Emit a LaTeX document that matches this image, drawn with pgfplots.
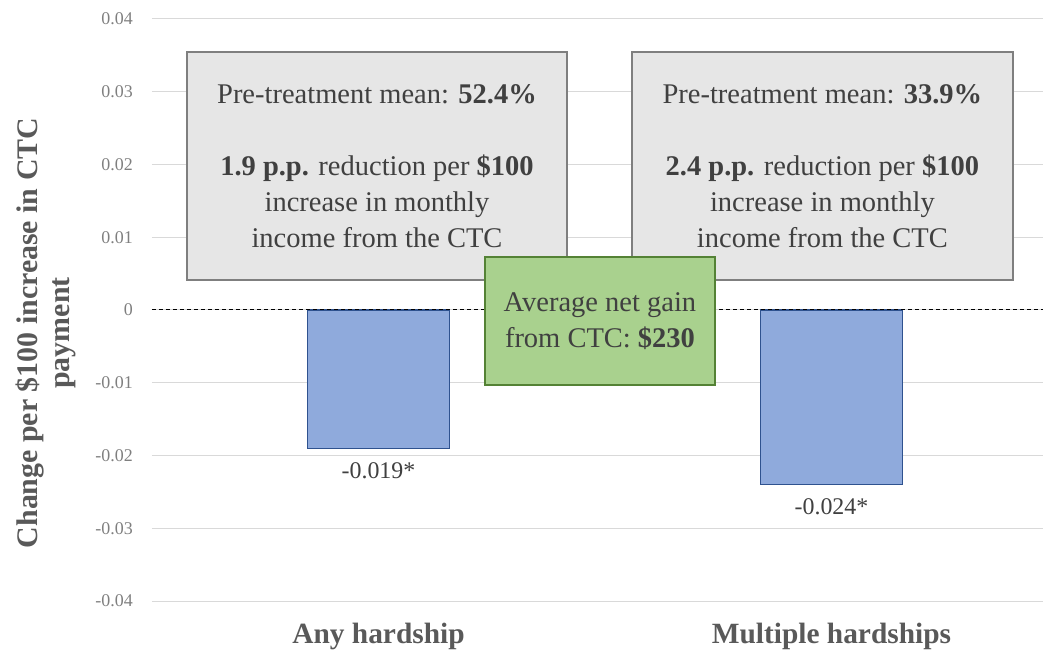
\documentclass[border=0pt]{standalone}
\usepackage{fontspec}
\setmainfont{Liberation Serif}
\usepackage{graphicx}
\usepackage{pgfplots}
\pgfplotsset{compat=1.18}
\definecolor{gridgray}{HTML}{D9D9D9}
\definecolor{tickgray}{HTML}{7F7F7F}
\definecolor{txt}{HTML}{404040}
\definecolor{labtxt}{HTML}{595959}
\definecolor{boxgray}{HTML}{E6E6E6}
\definecolor{boxborder}{HTML}{7F7F7F}
\definecolor{greenfill}{HTML}{A9D18E}
\definecolor{greenborder}{HTML}{548235}
\definecolor{barblue}{HTML}{8FAADC}
\definecolor{barborder}{HTML}{2F528F}
\begin{document}
\begin{tikzpicture}
\begin{axis}[
  at={(0,0)}, anchor=south west,
  scale only axis, width=891bp, height=582bp,
  xmin=-0.5, xmax=1.467, ymin=-0.04, ymax=0.04,
  clip=false,
  scaled y ticks=false,
  ytick={-0.04,-0.03,-0.02,-0.01,0,0.01,0.02,0.03,0.04},
  yticklabels={-0.04,-0.03,-0.02,-0.01,0,0.01,0.02,0.03,0.04},
  xtick={0,1},
  xticklabels={Any hardship, Multiple hardships},
  axis line style={draw=none},
  major tick length=0pt,
  ymajorgrids, grid style={color=gridgray, line width=1bp},
  yticklabel style={font=\fontsize{18}{18}\selectfont, text=tickgray, anchor=east, inner sep=0pt, xshift=-19bp},
  xticklabel style={font=\fontsize{29.5}{29.5}\selectfont\bfseries, text=labtxt, anchor=base, inner sep=0pt, yshift=-42bp},
]
\addplot[ybar, bar width=0.313, fill=barblue, draw=barborder, line width=1.2bp,
  point meta=explicit symbolic,
  nodes near coords,
  nodes near coords style={font=\fontsize{24}{24}\selectfont, text=txt, inner sep=0pt, yshift=-31bp}]
  coordinates {(0,-0.019) [-0.019*] (1,-0.024) [-0.024*]};
\addplot[black, line width=1bp, dash pattern=on 4bp off 3bp] coordinates {(-0.5,0) (1.467,0)};
% gray boxes
\draw[fill=boxgray, draw=boxborder, line width=1.5bp] (axis cs:-0.4227,0.03546) rectangle (axis cs:0.416,0.00412);
\node[align=center, text=txt, font=\fontsize{28.6}{36}\selectfont] at (axis cs:-0.0033,0.0198)
  {Pre-treatment mean: \textbf{52.4\%}\\[36bp]\textbf{1.9 p.p.} reduction per \textbf{\$100}\\increase in monthly\\income from the CTC};
\draw[fill=boxgray, draw=boxborder, line width=1.5bp] (axis cs:0.5596,0.03546) rectangle (axis cs:1.4007,0.00412);
\node[align=center, text=txt, font=\fontsize{28.6}{36}\selectfont] at (axis cs:0.98,0.0198)
  {Pre-treatment mean: \textbf{33.9\%}\\[36bp]\textbf{2.4 p.p.} reduction per \textbf{\$100}\\increase in monthly\\income from the CTC};
% green box
\draw[fill=greenfill, draw=greenborder, line width=1.5bp] (axis cs:0.235,0.00729) rectangle (axis cs:0.743,-0.01031);
\node[align=center, text=txt, font=\fontsize{28.6}{36}\selectfont] at (axis cs:0.489,-0.00151)
  {Average net gain\\from CTC: \textbf{\$230}};
\end{axis}
\node[rotate=90, align=center, text=labtxt, font=\fontsize{30}{32}\selectfont\bfseries] at (-106bp,268bp)
  {Change per \$100 increase in CTC\\payment};
\pgfresetboundingbox
\path[use as bounding box] (-152bp,-51bp) rectangle (893bp,601bp);
\end{tikzpicture}
\end{document}
